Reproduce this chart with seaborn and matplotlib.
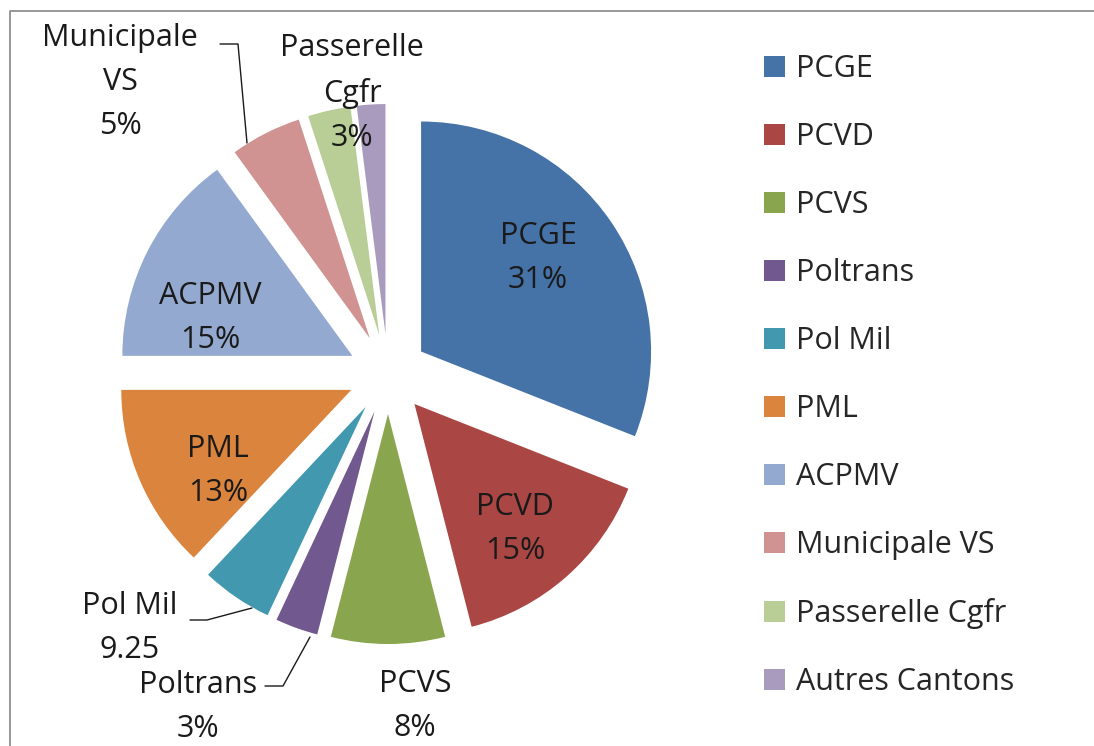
import matplotlib
matplotlib.use("Agg")
import matplotlib.pyplot as plt
import seaborn as sns

# data
units = ["PCGE", "PCVD", "PCVS", "Poltrans", "Pol Mil", "PML", "ACPMV",
         "Municipale VS", "Passerelle Cgfr", "Autres Cantons"]
shares = [31, 15, 8, 3, 5, 13, 15, 5, 3, 2]
slice_text = ["PCGE\n31%", "PCVD\n15%", "PCVS\n8%", "Poltrans\n3%", "Pol Mil\n9.25",
              "PML\n13%", "ACPMV\n15%", "Municipale\nVS\n5%", "Passerelle\nCgfr\n3%", ""]
colors_hex = ["#4572A7", "#AA4643", "#89A54E", "#71588F", "#4198AF",
              "#DB843D", "#93A9CF", "#D19392", "#B9CD96", "#A99BBD"]

W, H = 1094, 746
sns.set_theme(style="white")
plt.rcParams['font.family'] = ['Open Sans', 'DejaVu Sans']
palette = sns.color_palette(colors_hex)

fig = plt.figure(figsize=(W / 100, H / 100), dpi=100)
ax = fig.add_axes([0, 0, 1, 1])

# y axis runs downward (pixel-like), so counterclock=True draws clockwise on screen
wedges, _ = ax.pie(shares, colors=palette, startangle=-90, counterclock=True,
                   explode=[40] * len(shares), radius=230, center=(388, 374),
                   wedgeprops=dict(linewidth=0))
ax.set_xlim(0, W)
ax.set_ylim(H, 0)
ax.set_aspect("auto")
ax.axis("off")

# label layout (pixel positions)
label_xy = [(538, 258), (515, 529), (415, 706), (198, 707), (130, 628),
            (218, 471), (210, 318), (120, 82), (352, 93), None]
for txt, xy in zip(slice_text, label_xy):
    if xy is None:
        continue
    ax.text(xy[0], xy[1], txt, ha="center", va="center", fontsize=22,
            color="#1a1a1a", linespacing=1.62)

# leader lines
leaders = [
    ([220, 238, 247], [44, 44, 143]),
    ([190, 207, 252], [620, 620, 608]),
    ([265, 283, 310], [686, 686, 637]),
]
for xs, ys in leaders:
    ax.plot(xs, ys, color="#1a1a1a", lw=1)

# chart border (top and left edges visible)
ax.plot([10, 10, W + 5], [H + 5, 11, 11], color="#868686", lw=1.2, clip_on=False)

ax.legend(wedges, units, loc="upper left", bbox_to_anchor=(764 / W, 1 - 54 / H),
          frameon=False, fontsize=22, handlelength=0.7, handleheight=0.7,
          handletextpad=0.35, labelspacing=1.245, borderpad=0, borderaxespad=0)

fig.savefig("out.png", dpi=100)
